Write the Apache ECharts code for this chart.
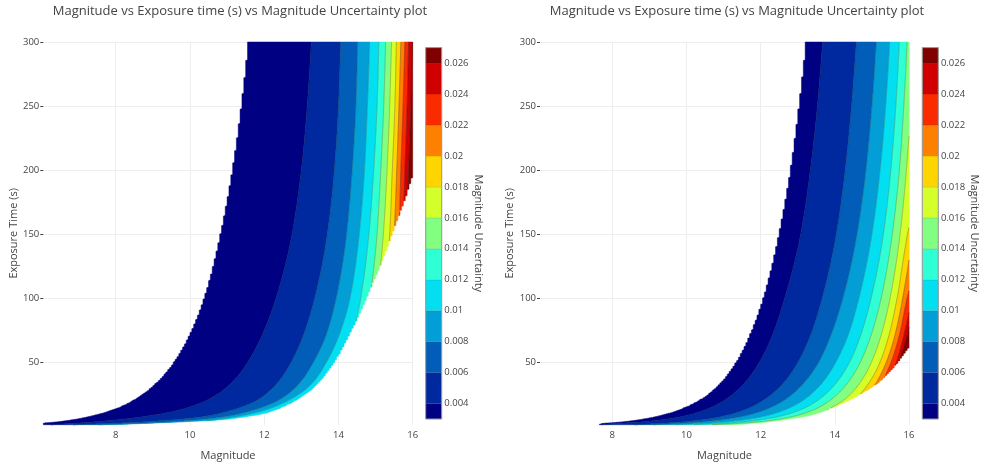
<!DOCTYPE html>
<html>
<head>
<meta charset="utf-8">
<script src="https://cdn.jsdelivr.net/npm/echarts@6/dist/echarts.min.js"></script>
<style>html,body{margin:0;padding:0;background:#fff}#c{width:985px;height:463px}</style>
</head>
<body>
<div id="c"></div>
<script>
// ---------------- data ----------------
const titleText = 'Magnitude vs Exposure time (s) vs Magnitude Uncertainty plot';
const magTicks = [8, 10, 12, 14, 16];
const timeTicks = [50, 100, 150, 200, 250, 300];
const levels = [0.004, 0.006, 0.008, 0.01, 0.012, 0.014, 0.016, 0.018, 0.02, 0.022, 0.024, 0.026];
const cbLow  = [0.003, 0.004, 0.006, 0.008, 0.010, 0.012, 0.014, 0.016, 0.018, 0.020, 0.022, 0.024, 0.026];
const cbHigh = [0.004, 0.006, 0.008, 0.010, 0.012, 0.014, 0.016, 0.018, 0.020, 0.022, 0.024, 0.026, 0.027];
const bandColors = ['rgb(0,0,131)', 'rgb(0,40,159)', 'rgb(1,93,184)', 'rgb(3,158,213)', 'rgb(4,222,241)',
  'rgb(47,255,213)', 'rgb(130,255,128)', 'rgb(213,255,43)', 'rgb(254,213,0)', 'rgb(253,128,0)',
  'rgb(251,43,0)', 'rgb(209,0,0)', 'rgb(128,0,0)'];
const magGridStep = 0.05;   // magnitude spacing of the sampled grid (gives the stepped data edges)

// points are [magnitude, exposure time]
// left plot: edge of the data toward bright stars (upper-left white area)
const leftBrightEdge = [[11.55,300],[11.36,250],[11.12,200],[10.80,150],[10.36,100],[9.98,72],[9.55,50],[9.05,33],[8.45,20],[7.88,12.5],[7.25,7.3],[6.45,3.4],[6.05,2.2],[6.0,1]];
// left plot: edge of the data toward faint stars (lower-right white area)
const leftFaintEdge = [[16.1,203],[16,194],[15.85,180],[15.66,165],[15.47,150],[15.24,132],[15.0,115],[14.78,100],[14.60,88],[14.33,72],[14.02,55],[13.82,46],[13.6,37.5],[13.28,28],[12.88,20],[12.45,14],[12.05,10],[11.55,7.3],[10.95,5],[10.0,3.4],[9.0,2.2],[8.4,1.5],[8.0,1]];
// left plot: contour lines, one per level
const leftContours = [
  [[13.27,300],[13.16,250],[13.0,200],[12.75,150],[12.32,100],[11.96,72],[11.56,50],[11.1,33],[10.45,20],[9.72,12.5],[8.75,7.3],[7.5,3.4],[6.55,1.5],[6.25,1]],
  [[14.06,300],[14.0,250],[13.89,200],[13.70,150],[13.36,100],[13.07,72],[12.73,50],[12.34,33],[11.80,20],[11.15,12.5],[10.35,7.3],[8.85,3.4],[7.35,1.5],[6.85,1]],
  [[14.52,300],[14.47,250],[14.37,200],[14.22,150],[13.94,100],[13.68,72],[13.33,50],[12.94,33],[12.38,20],[11.72,12.5],[10.94,7.3],[9.55,3.4],[8.05,1.5],[7.55,1]],
  [[14.84,300],[14.78,250],[14.70,200],[14.56,150],[14.31,100],[14.03,72],[13.68,50],[13.28,33],[12.65,20],[12.02,12.5],[11.26,7.3],[10.72,5],[10.15,3.4]],
  [[15.09,300],[15.04,250],[14.95,200],[14.82,150],[14.60,100],[14.39,72]],
  [[15.27,300],[15.22,250],[15.14,200],[15.04,150],[14.90,111],[14.80,90]],
  [[15.43,300],[15.38,250],[15.31,200],[15.21,150],[15.10,115]],
  [[15.56,300],[15.52,250],[15.45,200],[15.38,150],[15.32,130]],
  [[15.68,300],[15.63,250],[15.57,200],[15.50,150],[15.47,135]],
  [[15.79,300],[15.74,250],[15.68,200],[15.64,160],[15.62,150]],
  [[15.89,300],[15.85,250],[15.79,200],[15.76,170],[15.74,160]],
  [[15.98,300],[15.95,250],[15.89,200],[15.87,180],[15.85,170]]
];
// right plot
const rightBrightEdge = [[13.2,300],[13.01,250],[12.78,200],[12.47,150],[12.05,100],[11.70,72],[11.32,50],[10.88,33],[10.32,20],[9.76,12.5],[9.15,7.3],[8.3,3.4],[7.68,1.8],[7.62,1]];
const rightFaintEdge = [[16.1,65],[16,61],[15.62,46],[15.38,38.5],[15.2,34],[14.6,23],[14.02,15],[13.4,8.6],[12.5,4.2],[11.65,1.6],[11.35,1]];
const rightContours = [
  [[13.67,300],[13.53,250],[13.34,200],[13.08,150],[12.65,100],[12.33,72],[11.97,50],[11.55,33],[11.02,20],[10.50,12.5],[9.86,7.3],[8.86,3.4],[7.86,1.5],[7.7,1]],
  [[14.58,300],[14.45,250],[14.28,200],[14.04,150],[13.66,100],[13.36,72],[13.01,50],[12.60,33],[12.07,20],[11.56,12.5],[10.93,7.3],[9.97,3.4],[8.94,1.5],[8.6,1]],
  [[15.12,300],[15.0,250],[14.84,200],[14.60,150],[14.22,100],[13.91,72],[13.57,50],[13.15,33],[12.63,20],[12.11,12.5],[11.48,7.3],[10.51,3.4],[9.48,1.5],[9.1,1]],
  [[15.48,300],[15.37,250],[15.22,200],[15.0,150],[14.65,100],[14.37,72],[14.03,50],[13.64,33],[13.14,20],[12.64,12.5],[12.03,7.3],[11.10,3.4],[10.10,1.5],[9.7,1]],
  [[15.74,300],[15.645,250],[15.51,200],[15.31,150],[14.98,100],[14.71,72],[14.40,50],[14.02,33],[13.54,20],[13.06,12.5],[12.47,7.3],[11.58,3.4],[10.62,1.5],[10.2,1]],
  [[15.95,300],[15.86,250],[15.74,200],[15.55,150],[15.25,100],[14.99,72],[14.69,50],[14.33,33],[13.87,20],[13.42,12.5],[12.85,7.3],[11.99,3.4],[11.07,1.5],[10.7,1]],
  [[16.02,235],[15.93,200],[15.76,150],[15.49,100],[15.26,72],[14.99,50],[14.66,33],[14.23,20],[13.98,15.5],[13.6,10]],
  [[16.04,160],[15.96,150],[15.68,100],[15.47,72],[15.22,50],[14.905,33],[14.5,20]],
  [[16.05,140],[15.83,100],[15.63,72],[15.39,50],[15.235,40],[15.10,33],[14.95,28]],
  [[16.04,110],[15.95,100],[15.75,72],[15.52,50],[15.37,40],[15.28,35]],
  [[16.03,93],[15.87,72],[15.66,50],[15.58,44]],
  [[16.02,80],[15.96,72],[15.84,60],[15.72,50],[15.66,46]]
];

// ---------------- rendering helpers ----------------
const FONT = '"Open Sans", verdana, arial, sans-serif';
const TXT = '#444';
const MAG_MIN = 6.05, MAG_MAX = 16, T_MIN = 1, T_MAX = 300;

// smooth, shape-preserving interpolation of magnitude against log(time)
function makeCurve(points) {
  const p = points.slice().sort((a, b) => a[1] - b[1]);
  const u = p.map(q => Math.log(q[1])), m = p.map(q => q[0]);
  const n = p.length, d = [], s = [];
  for (let i = 0; i < n - 1; i++) d.push((m[i + 1] - m[i]) / (u[i + 1] - u[i]));
  for (let i = 0; i < n; i++) {
    if (i === 0) s.push(d[0]);
    else if (i === n - 1) s.push(d[n - 2]);
    else if (d[i - 1] * d[i] <= 0) s.push(0);
    else {
      const h0 = u[i] - u[i - 1], h1 = u[i + 1] - u[i];
      s.push(3 * (h0 + h1) / ((2 * h1 + h0) / d[i - 1] + (h1 + 2 * h0) / d[i]));
    }
  }
  const tMin = p[0][1], tMax = p[n - 1][1];
  return function (t) {
    if (t < tMin - 1e-9 || t > tMax + 1e-9) return null;
    const x = Math.log(t);
    let i = 0;
    while (i < n - 2 && x > u[i + 1]) i++;
    const h = u[i + 1] - u[i], z = Math.min(1, Math.max(0, (x - u[i]) / h));
    const z2 = z * z, z3 = z2 * z;
    return (2 * z3 - 3 * z2 + 1) * m[i] + (z3 - 2 * z2 + z) * h * s[i] +
           (-2 * z3 + 3 * z2) * m[i + 1] + (z3 - z2) * h * s[i + 1];
  };
}
const tGrid = [];
for (let t = 1; t < 10; t += 0.05) tGrid.push(+t.toFixed(3));
for (let t = 10; t <= T_MAX + 1e-9; t += 0.5) tGrid.push(+t.toFixed(3));

function buildPlot(bright, faint, contours) {
  const Ac = makeCurve(bright), Bc = makeCurve(faint), C = contours.map(makeCurve);
  const A = t => Math.max(MAG_MIN, Math.ceil(Ac(t) / magGridStep - 1e-6) * magGridStep);
  const B = t => { const v = Bc(t); return v == null ? MAG_MAX : Math.min(MAG_MAX, Math.floor(v / magGridStep + 1e-6) * magGridStep); };
  const bands = [];
  for (let k = 0; k <= C.length; k++) {
    const left = k === 0 ? null : C[k - 1];
    const right = k === C.length ? null : C[k];
    const runs = []; let cur = null;
    for (const t of tGrid) {
      let lo = A(t), hi = B(t);
      if (left) { const v = left(t); lo = v == null ? Infinity : Math.max(lo, v); }
      if (right) { const v = right(t); if (v != null) hi = Math.min(hi, v); }
      if (hi > lo) { if (!cur) { cur = []; runs.push(cur); } cur.push([t, lo, hi]); }
      else cur = null;
    }
    bands.push(runs.map(r => r.map(q => [q[1], q[0]]).concat(r.slice().reverse().map(q => [q[2], q[0]]))));
  }
  const lines = C.map(c => {
    const runs = []; let cur = null;
    for (const t of tGrid) {
      const v = c(t), a = A(t), b = B(t);
      if (v != null && v >= a && v <= b) { if (!cur) { cur = []; runs.push(cur); } cur.push([v, t]); }
      else cur = null;
    }
    return runs;
  });
  return { bands, lines };
}

const plots = [buildPlot(leftBrightEdge, leftFaintEdge, leftContours),
               buildPlot(rightBrightEdge, rightFaintEdge, rightContours)];

function contourSeries(pi) {
  const P = plots[pi];
  return [{
    type: 'custom', xAxisIndex: pi, yAxisIndex: pi, silent: true, z: 2,
    data: bandColors.map((c, i) => [10, 150, i]),
    renderItem: function (params, api) {
      const k = api.value(2);
      return {
        type: 'group',
        children: P.bands[k].map(poly => ({
          type: 'polygon',
          shape: { points: poly.map(q => api.coord(q)) },
          style: { fill: bandColors[k], stroke: bandColors[k], lineWidth: 0.5 }
        }))
      };
    }
  }, {
    type: 'custom', xAxisIndex: pi, yAxisIndex: pi, silent: true, z: 3,
    data: levels.map((l, i) => [10, 150, i]),
    renderItem: function (params, api) {
      const k = api.value(2);
      return {
        type: 'group',
        children: P.lines[k].map(run => ({
          type: 'polyline',
          shape: { points: run.map(q => api.coord(q)) },
          style: { fill: null, stroke: 'rgba(30,30,30,0.45)', lineWidth: 0.6 }
        }))
      };
    }
  }];
}
function colorbarSeries(ai) {
  return {
    type: 'custom', xAxisIndex: ai, yAxisIndex: ai, silent: true,
    data: cbLow.map((v, i) => [0.5, (v + cbHigh[i]) / 2, i]),
    renderItem: function (params, api) {
      const i = api.value(2);
      const p0 = api.coord([0, cbLow[i]]), p1 = api.coord([1, cbHigh[i]]);
      const children = [{
        type: 'rect',
        shape: { x: p0[0], y: p1[1], width: p1[0] - p0[0], height: p0[1] - p1[1] },
        style: { fill: bandColors[i], stroke: 'rgba(0,0,0,0.18)', lineWidth: 0.5 }
      }];
      if (i === cbLow.length - 1) {
        const q0 = api.coord([0, cbLow[0]]), q1 = api.coord([1, cbHigh[cbHigh.length - 1]]);
        children.push({
          type: 'rect',
          shape: { x: q0[0], y: q1[1], width: q1[0] - q0[0], height: q0[1] - q1[1] },
          style: { fill: null, stroke: '#9a9a9a', lineWidth: 1 }
        });
      }
      return { type: 'group', children };
    }
  };
}

function magAxis(gi) {
  return {
    type: 'value', gridIndex: gi, min: MAG_MIN, max: MAG_MAX,
    axisLine: { show: false },
    axisTick: { show: false, customValues: magTicks },
    axisLabel: { customValues: magTicks, color: TXT, fontSize: 9.5, fontFamily: FONT, margin: 6, formatter: v => String(v) },
    splitLine: { show: true, lineStyle: { color: '#eeeeee', width: 1 } },
    name: 'Magnitude', nameLocation: 'middle', nameGap: 26,
    nameTextStyle: { color: TXT, fontSize: 11, fontFamily: FONT }
  };
}
function timeAxis(gi) {
  return {
    type: 'value', gridIndex: gi, min: T_MIN, max: T_MAX,
    axisLine: { show: false },
    axisTick: { show: true, customValues: timeTicks, length: 3, lineStyle: { color: TXT, width: 1 } },
    axisLabel: { customValues: timeTicks, color: TXT, fontSize: 9.5, fontFamily: FONT, margin: 4, formatter: v => String(v) },
    splitLine: { show: true, lineStyle: { color: '#eeeeee', width: 1 } },
    name: 'Exposure Time (s)', nameLocation: 'middle', nameGap: 23, nameRotate: 90,
    nameTextStyle: { color: TXT, fontSize: 11, fontFamily: FONT }
  };
}
function cbXAxis(gi) { return { type: 'value', gridIndex: gi, min: 0, max: 1, show: false }; }
function cbYAxis(gi) {
  return {
    type: 'value', gridIndex: gi, min: 0.003, max: 0.027, position: 'right',
    axisLine: { show: false },
    axisTick: { show: false, customValues: levels },
    axisLabel: { customValues: levels, color: TXT, fontSize: 9.5, fontFamily: FONT, margin: 2.6,
      formatter: v => String(+(+v).toFixed(3)) },
    splitLine: { show: false },
    name: 'Magnitude Uncertainty', nameLocation: 'middle', nameGap: 30, nameRotate: -90,
    nameTextStyle: { color: TXT, fontSize: 11, fontFamily: FONT }
  };
}

const chart = echarts.init(document.getElementById('c'), null, { renderer: 'canvas', width: 985, height: 463 });
chart.setOption({
  backgroundColor: '#fff',
  animation: false,
  title: [
    { text: titleText, left: 240, top: 5, padding: 0, textAlign: 'center',
      textStyle: { fontSize: 13, fontWeight: 'normal', color: TXT, fontFamily: FONT } },
    { text: titleText, left: 737, top: 5, padding: 0, textAlign: 'center',
      textStyle: { fontSize: 13, fontWeight: 'normal', color: TXT, fontFamily: FONT } }
  ],
  grid: [
    { left: 43.3, top: 42, width: 369.4, height: 382.7, outerBoundsMode: 'none' },
    { left: 540, top: 42, width: 369, height: 382.7, outerBoundsMode: 'none' },
    { left: 425.7, top: 47.6, width: 16, height: 371.4, outerBoundsMode: 'none' },
    { left: 922.3, top: 47.6, width: 16, height: 371.4, outerBoundsMode: 'none' }
  ],
  xAxis: [magAxis(0), magAxis(1), cbXAxis(2), cbXAxis(3)],
  yAxis: [timeAxis(0), timeAxis(1), cbYAxis(2), cbYAxis(3)],
  series: [].concat(contourSeries(0), contourSeries(1), [colorbarSeries(2), colorbarSeries(3)])
});
</script>
</body>
</html>
